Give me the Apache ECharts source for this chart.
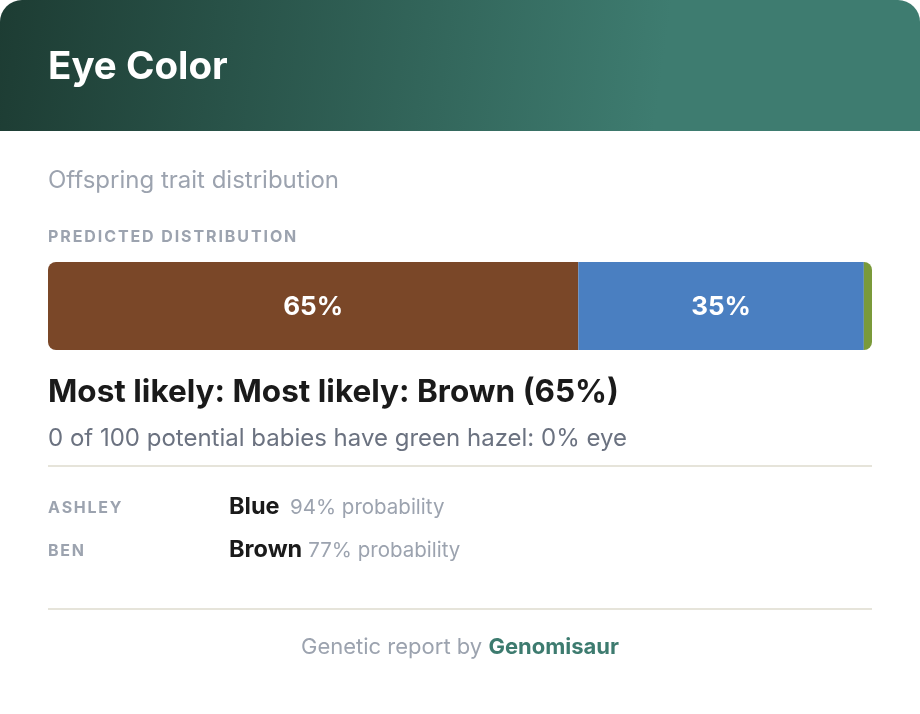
<!DOCTYPE html>
<html>
<head>
<meta charset="utf-8">
<script src="https://cdn.jsdelivr.net/npm/echarts@6/dist/echarts.min.js"></script>
<style>
html,body{margin:0;padding:0;background:#ffffff;}
#chart{width:920px;height:714px;}
</style>
</head>
<body>
<div id="chart"></div>
<script>
// ---- data ----
const categories = ['Brown', 'Blue', 'Green/Hazel'];
const values = [65, 35, 1];
const colors = ['#7a4728', '#4a7fc1', '#7a9a3a'];
const parentNames = ['ASHLEY', 'BEN'];
const parentColors = ['Blue', 'Brown'];
const parentProbs = [94, 77];

const FONT = 'Inter, "Noto Sans", sans-serif';
const total = values.reduce((a, b) => a + b, 0);
const chart = echarts.init(document.getElementById('chart'), null, {renderer: 'canvas'});

const mctx = document.createElement('canvas').getContext('2d');
function measure(str, font) { mctx.font = font; return mctx.measureText(str).width; }

// text with manual letter spacing (graphic elements only)
function spaced(str, x, y, font, fill, ls) {
  const els = [];
  let cx = x;
  for (const ch of str) {
    els.push({type: 'text', x: cx, y: y, style: {text: ch, fill: fill, font: font, textVerticalAlign: 'middle'}});
    cx += measure(ch, font) + ls;
  }
  return els;
}

const series = categories.map((c, i) => ({
  name: c,
  type: 'bar',
  stack: 'dist',
  barWidth: 88,
  data: [values[i]],
  itemStyle: {
    color: colors[i],
    borderRadius: i === 0 ? [8, 0, 0, 8] : (i === categories.length - 1 ? [0, 8, 8, 0] : 0)
  },
  label: {
    show: values[i] >= 5,
    position: 'inside',
    offset: [0, 1],
    formatter: values[i] + '%',
    color: '#ffffff',
    fontFamily: FONT,
    fontWeight: 'bold',
    fontSize: 26
  },
  silent: true
}));

const capFont = 'bold 16px ' + FONT;
let graphics = [
  {
    type: 'rect', z: -10,
    shape: {x: 0, y: 0, width: 920, height: 160, r: [22, 22, 0, 0]},
    style: {fill: new echarts.graphic.LinearGradient(0, 0, 660, 90, [
      {offset: 0, color: '#1d3c33'}, {offset: 1, color: '#3e7c70'}], true)}
  },
  {
    type: 'rect', z: -9,
    shape: {x: 0, y: 131, width: 920, height: 583},
    style: {fill: '#ffffff'}
  },
  {type: 'text', x: 48, y: 67, style: {text: 'Eye Color', fill: '#ffffff', font: 'bold 38.5px ' + FONT, textVerticalAlign: 'middle'}},
  {type: 'text', x: 48, y: 181, style: {text: 'Offspring trait distribution', fill: '#9ca3af', font: '24px ' + FONT, textVerticalAlign: 'middle'}},
  {type: 'text', x: 48, y: 393, style: {text: 'Most likely: Most likely: ' + categories[0] + ' (' + values[0] + '%)', fill: '#1a1a1a', font: 'bold 31.5px ' + FONT, textVerticalAlign: 'middle'}},
  {type: 'text', x: 48, y: 439, style: {text: '0 of 100 potential babies have green hazel: 0% eye', fill: '#6b7280', font: '24px ' + FONT, textVerticalAlign: 'middle'}},
  {type: 'rect', shape: {x: 48, y: 465, width: 824, height: 2}, style: {fill: '#e6e4da'}},
  {type: 'rect', shape: {x: 48, y: 608, width: 824, height: 2}, style: {fill: '#e6e4da'}},
  {type: 'text', x: 460, y: 647, style: {
    text: '{a|Genetic report by }{b|Genomisaur}', align: 'center', verticalAlign: 'middle',
    rich: {
      a: {fill: '#9ca3af', font: '22px ' + FONT},
      b: {fill: '#3d7b6f', font: 'bold 22px ' + FONT}
    }
  }}
];
graphics = graphics.concat(spaced('PREDICTED DISTRIBUTION', 48, 237, capFont, '#9ca3af', 1.9));

parentNames.forEach((n, i) => {
  const y = 508 + i * 43;
  graphics = graphics.concat(spaced(n, 48, y, capFont, '#9ca3af', 1.7));
  const cFont = 'bold 23.5px ' + FONT;
  const w = Math.max(measure(parentColors[i], cFont), 55);
  graphics.push({type: 'text', x: 229, y: y - 1, style: {text: parentColors[i], fill: '#1a1a1a', font: cFont, textVerticalAlign: 'middle'}});
  graphics.push({type: 'text', x: 229 + w + 6, y: y, style: {text: parentProbs[i] + '% probability', fill: '#9ca3af', font: '20.5px ' + FONT, textVerticalAlign: 'middle'}});
});

chart.setOption({
  animation: false,
  grid: {left: 48, right: 48, top: 262, height: 88},
  xAxis: {type: 'value', min: 0, max: total, show: false},
  yAxis: {type: 'category', data: ['Eye color'], show: false},
  series: series,
  graphic: graphics
});
</script>
</body>
</html>
